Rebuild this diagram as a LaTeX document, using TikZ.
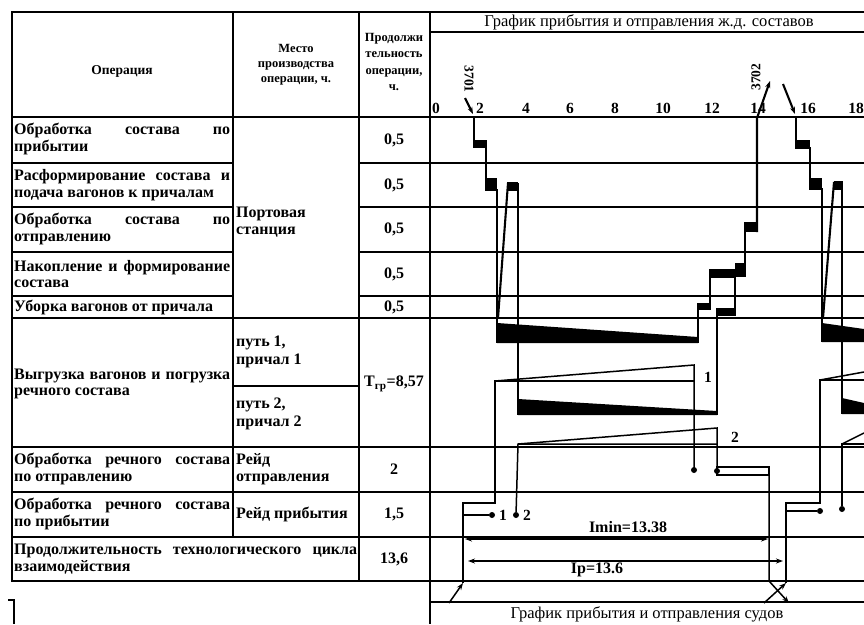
\documentclass[tikz,border=0pt]{standalone}
\usepackage{fontspec}
\setmainfont{Liberation Serif}
\usetikzlibrary{arrows.meta}

\begin{document}
\begin{tikzpicture}[x=1pt,y=-1pt,>={Stealth[length=7pt,width=5pt]},
  frame/.style={line width=2pt},
  grid/.style={line width=1.5pt},
  train/.style={line width=2.1pt},
  ship/.style={line width=1.5pt},
  op/.style={anchor=west,text width=216pt,align=justify,inner sep=0pt,
    font=\bfseries\fontsize{16}{16.5}\selectfont},
  place/.style={anchor=west,align=left,inner sep=0pt,
    font=\bfseries\fontsize{16}{17.5}\selectfont},
  val/.style={font=\bfseries\fontsize{16}{17}\selectfont,inner sep=0pt},
  hdr/.style={align=center,font=\bfseries\fontsize{12.5}{15}\selectfont,inner sep=0pt},
  num/.style={font=\bfseries\fontsize{15.5}{16}\selectfont,inner sep=0pt},
  ttl/.style={font=\fontsize{16.5}{18}\selectfont,inner sep=0pt},
  dot/.style={circle,fill,inner sep=0pt,minimum size=6pt}]
\useasboundingbox (0,0) rectangle (864,624);
% table frame and rows
\draw[frame] (864,12) -- (12,12) -- (12,581) -- (430,581);
\draw[frame] (430,12) -- (430,624);
\draw[grid] (233,12) -- (233,537);
\draw[grid] (359,12) -- (359,581);
\foreach \y in {163,207,252,296}
  \draw[grid] (12,\y) -- (233,\y) (359,\y) -- (864,\y);
\foreach \y in {117,318,447,492,537}
  \draw[grid] (12,\y) -- (864,\y);
\draw[grid] (233,386) -- (359,386);
\foreach \y in {32,581,602}
  \draw[grid] (430,\y) -- (864,\y);
\draw[frame] (8,600) -- (14,600) -- (14,624);
% header
\node[hdr,font=\bfseries\fontsize{13.5}{15}\selectfont] (hop) at (122,71) {Операция};
\node[hdr] (hpl) at (296,65) {Место\\производства\\операции, ч.};
\node[hdr,font=\bfseries\fontsize{12.5}{16.5}\selectfont] (hdur) at (394,62) {Продолжи\\тельность\\операции,\\ч.};
\node[ttl] (ttop) at (649,22) {График прибытия и отправления ж.д. составов};
\foreach \t/\x in {0/436,2/480,4/526,6/570,8/615,10/663,12/712,14/758,16/808,18/856}
  \node[num] (h\t) at (\x,108) {\t};
% operations
\node[op] (op1) at (14,139) {Обработка состава по\linebreak прибытии};
\node[op] (op2) at (14,185) {Расформирование состава и\linebreak подача вагонов к причалам};
\node[op] (op3) at (14,229) {Обработка состава по\linebreak отправлению};
\node[op] (op4) at (14,274) {Накопление и формирование\linebreak состава};
\node[op] (op5) at (14,307) {Уборка вагонов от причала};
\node[op] (op6) at (14,384) {Выгрузка вагонов и погрузка\linebreak речного состава};
\node[op] (op7) at (14,469) {Обработка речного состава\linebreak по отправлению};
\node[op] (op8) at (14,514) {Обработка речного состава\linebreak по прибытии};
\node[op,text width=343pt] (op9) at (14,559) {Продолжительность технологического цикла\linebreak взаимодействия};
\node[place] (pl1) at (236,222) {Портовая\\станция};
\node[place] (pl2) at (236,352) {путь 1,\\причал 1};
\node[place] (pl3) at (236,414) {путь 2,\\причал 2};
\node[place] (pl4) at (236,469) {Рейд\\отправления};
\node[place] (pl5) at (236,514) {Рейд прибытия};
\foreach \n/\y in {1/140,2/185,3/229,4/274,5/307}
  \node[val] (v\n) at (394,\y) {0,5};
\node[val] (v6) at (394,384) {T\textsubscript{гр}=8,57};
\node[val] (v7) at (394,469) {2};
\node[val] (v8) at (394,514) {1,5};
\node[val] (v9) at (394,559) {13,6};
% train 3701
\node[num,rotate=-90,font=\bfseries\fontsize{13.5}{14}\selectfont] (n3701) at (469,79) {3701};
\draw[train,->] (465,98) -- (473,114);
\draw[train] (474,117) -- (474,147) -- (486,147) -- (486,190) -- (497,190) -- (497,343);
\fill (474,140) rectangle (487,147);
\fill (486,178) rectangle (497,190);
\fill (507,182) rectangle (518,191);
\draw[train] (498,318) -- (508,183);
\draw[train] (518,183) -- (518,415);
\fill (497,323) -- (698,337) -- (698,343) -- (497,343) -- cycle;
\fill (518,399) -- (717,411) -- (717,415) -- (518,415) -- cycle;
\draw[train] (698,343) -- (698,303);
\fill (698,303) rectangle (711,310);
\draw[train] (717,415) -- (717,308);
\fill (718,308) rectangle (736,316);
\draw[train] (710,310) -- (710,269);
\draw[train] (735,308) -- (735,276);
\fill (710,269) rectangle (735,278);
\fill (735,263) rectangle (746,277);
\draw[train] (745,263) -- (745,222);
\fill (745,222) rectangle (757,232);
\node[num,rotate=90,font=\bfseries\fontsize{13.5}{14}\selectfont] (n3702) at (756,77) {3702};
\draw[train,->] (757,232) -- (757,118) -- (770,81);
% next train
\draw[train,->] (783,84) -- (795,114);
\draw[train] (796,117) -- (796,148) -- (810,148) -- (810,189) -- (822,189) -- (822,342);
\fill (796,140) rectangle (810,148);
\fill (810,178) rectangle (822,189);
\fill (834,181) rectangle (843,190);
\draw[train] (823,318) -- (834,182);
\draw[train] (842,182) -- (842,414);
\fill (822,323) -- (864,329) -- (864,342) -- (822,342) -- cycle;
\fill (842,398) -- (864,403) -- (864,414) -- (842,414) -- cycle;
% ships
\coordinate (a1) at (463,583);
\coordinate (d1) at (769,581);
\coordinate (a2) at (786,583);
\draw[ship,->] (449,603) -- (a1);
\draw[ship] (a1) -- (463,503) -- (495,503) -- (495,381) -- (694,381);
\draw[ship] (495,381) -- (694,365) -- (694,470);
\node[dot] (s1) at (492,515) {};
\draw[ship] (463,515) -- (s1);
\node[num] (l1) at (503,515) {1};
\node[dot] (s2) at (516,515) {};
\node[num] (l2) at (527,515) {2};
\draw[ship] (s2) -- (518,444) -- (717,444);
\draw[ship] (518,444) -- (717,428) -- (717,470);
\node[num] (b1) at (708,377) {1};
\node[num] (b2) at (735,437) {2};
\node[dot] (e1) at (694,470) {};
\node[dot] (e2) at (717,471) {};
\draw[ship] (717,467) rectangle (769,475);
\draw[ship,->] (769,467) -- (d1) -- (789,603);
\draw[ship,->] (764,603) -- (a2);
\draw[ship] (a2) -- (786,503) -- (820,503) -- (820,380) -- (864,380);
\draw[ship] (820,380) -- (864,372);
\node[dot] (s3) at (820,511) {};
\draw[ship] (786,511) -- (s3);
\node[dot] (s4) at (842,509) {};
\draw[ship] (s4) -- (842,444) -- (864,444);
\draw[ship] (842,444) -- (864,433);
% cycle length
\draw[ship,<->] (465,539) -- (768,539);
\node[num,font=\bfseries\fontsize{16}{17}\selectfont] (imin) at (628,527) {Imin=13.38};
\draw[ship,<->] (468,561) -- (783,561);
\node[num,font=\bfseries\fontsize{16}{17}\selectfont] (ip) at (597,570) {Ip=13.6};
\node[ttl] (tbot) at (647,614) {График прибытия и отправления судов};
\end{tikzpicture}
\end{document}
